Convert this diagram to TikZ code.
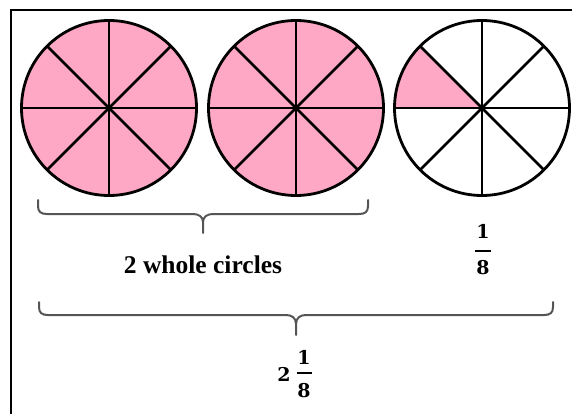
\documentclass[tikz,border=0pt]{standalone}
\usepackage{fontspec}
\usetikzlibrary{calc}
\setmainfont{Liberation Serif}
\newfontfamily\fracfont{DejaVu Serif}
\definecolor{slicepink}{RGB}{255,168,198}
\definecolor{bracegray}{RGB}{85,85,85}
\begin{document}
\begin{tikzpicture}[x=1pt,y=-1pt,
  wheel/.style={draw=black,line width=2.8pt},
  spoke/.style={draw=black,line width=2.6pt},
  bracepath/.style={draw=bracegray,line width=2pt,line cap=round},
  lbl/.style={font=\fontsize{25.5}{28}\selectfont\bfseries,inner sep=0pt},
  fdig/.style={font=\fontsize{19}{21}\selectfont\fracfont\bfseries,inner sep=0pt},
  fbar/.style={draw=black,line width=1.5pt}]
\useasboundingbox (0,0) rectangle (572,414);
% frame (left and top edges visible)
\draw[line width=2.6pt] (11,414) -- (11,10) -- (572,10);
% circle centres
\coordinate (c1) at (109,108);
\coordinate (c2) at (296,108);
\coordinate (c3) at (482,108);
\def\R{87.5}
% fills
\fill[slicepink] (c1) circle[radius=\R];
\fill[slicepink] (c2) circle[radius=\R];
\fill[slicepink] (c3) -- ++(180:\R) arc[start angle=180,end angle=225,radius=\R] -- cycle;
% spokes and rims
\foreach \c in {c1,c2,c3}{
  \foreach \a in {0,45,...,135}{
    \draw[spoke] ($(\c)+(\a:\R)$) -- ($(\c)+(\a+180:\R)$);
  }
  \draw[wheel] (\c) circle[radius=\R];
  \fill (\c) circle[radius=2.8pt];
}
% first brace
\coordinate (b1l) at (38,200);
\coordinate (b1r) at (368,200);
\coordinate (b1t) at (203,233);
\draw[bracepath] (b1l) -- (38,206) .. controls (38,212) and (41,214) .. (47,214)
  -- (193,214) .. controls (199,214) and (203,217) .. (203,222) -- (b1t);
\draw[bracepath] (b1r) -- (368,206) .. controls (368,212) and (365,214) .. (359,214)
  -- (213,214) .. controls (207,214) and (203,217) .. (203,222);
% second brace
\coordinate (b2l) at (39,302);
\coordinate (b2r) at (553,302);
\coordinate (b2t) at (296,335);
\draw[bracepath] (b2l) -- (39,307) .. controls (39,313) and (42,315) .. (48,315)
  -- (286,315) .. controls (292,315) and (296,318) .. (296,324) -- (b2t);
\draw[bracepath] (b2r) -- (553,307) .. controls (553,313) and (550,315) .. (544,315)
  -- (306,315) .. controls (300,315) and (296,318) .. (296,324);
% labels
\node[lbl] (whole) at (203,265) {2 whole circles};
\node[fdig] (n1) at (483,231) {1};
\draw[fbar] (475,251) -- (491,251);
\node[fdig] (d1) at (483,268) {8};
\node[fdig] (w2) at (284,374) {2};
\node[fdig] (n2) at (304,357) {1};
\draw[fbar] (297,373) -- (312,373);
\node[fdig] (d2) at (304,391) {8};
\end{tikzpicture}
\end{document}
